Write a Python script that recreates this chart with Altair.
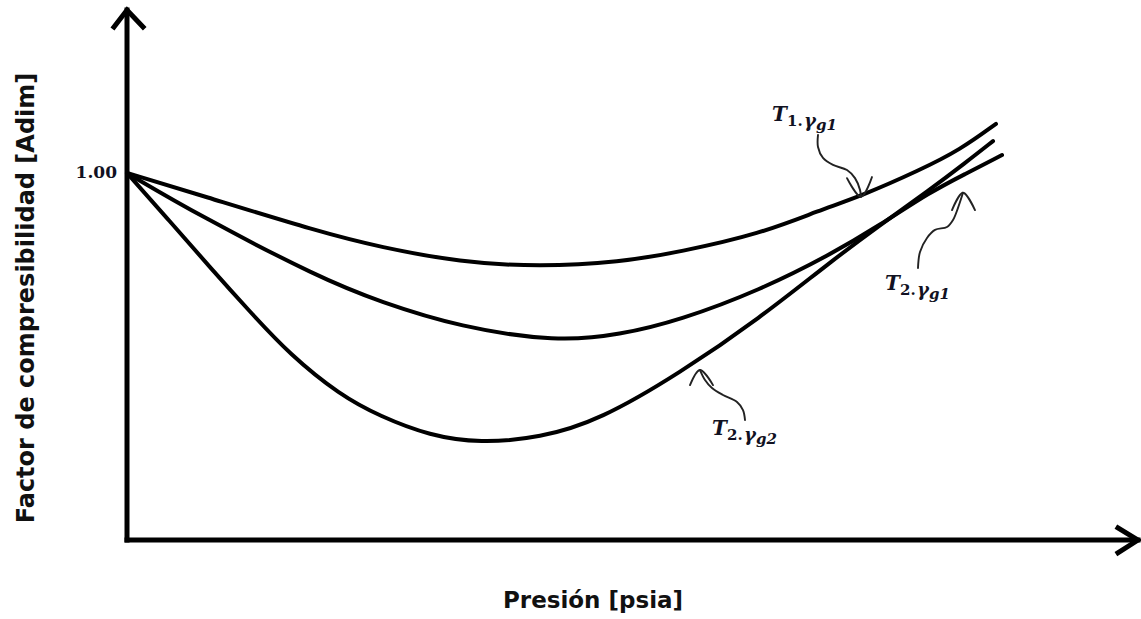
import altair as alt
import pandas as pd

# Pressure in arbitrary units (0 at the origin), Z = compressibility factor
P1 = [0, 73, 193, 253, 333, 413, 493, 553, 633, 693, 734, 793, 833, 869]
Z1 = [1.000, 0.940, 0.839, 0.798, 0.757, 0.744, 0.757, 0.785, 0.834, 0.899, 0.937, 1.008, 1.063, 1.134]

P2 = [0, 73, 193, 253, 333, 430, 493, 553, 633, 703, 753, 803, 838, 875]
Z2 = [1.000, 0.883, 0.714, 0.649, 0.580, 0.540, 0.559, 0.599, 0.681, 0.777, 0.858, 0.948, 0.997, 1.049]

P3 = [0, 43, 83, 123, 163, 213, 253, 303, 353, 413, 473, 553, 633, 703, 753, 803, 838, 866]
Z3 = [1.000, 0.868, 0.743, 0.622, 0.505, 0.395, 0.337, 0.284, 0.264, 0.278, 0.327, 0.455, 0.605, 0.757, 0.858, 0.955, 1.027, 1.087]

CURVE_NAMES = ["T1,γg1", "T2,γg1", "T2,γg2"]

# Curly pointer arrows (stem path + head), one per curve label
ARROW1_P = [691, 691, 696, 706, 720, 728, 733, 734]
ARROW1_Z = [1.104, 1.071, 1.041, 1.022, 1.008, 0.986, 0.954, 0.935]
HEAD1_P = [720, 734, 745]
HEAD1_Z = [0.986, 0.935, 0.989]

ARROW2_P = [791, 793, 800, 808, 820, 826, 831, 836]
ARROW2_Z = [0.741, 0.785, 0.823, 0.845, 0.853, 0.872, 0.905, 0.946]
HEAD2_P = [825, 836, 848]
HEAD2_Z = [0.899, 0.946, 0.899]

ARROW3_P = [618, 616, 610, 596, 585, 578, 573]
ARROW3_Z = [0.327, 0.354, 0.376, 0.395, 0.414, 0.436, 0.463]
HEAD3_P = [563, 573, 586]
HEAD3_Z = [0.422, 0.463, 0.422]

# Curve labels: anchor (left of "T", on its baseline), temperature and gas subscripts
LABEL_P = [645, 758, 585]
LABEL_Z = [1.142, 0.681, 0.286]
LABEL_T = ["1.", "2.", "2."]
LABEL_G = ["g1", "g1", "g2"]

# Axis extents with arrow tips
X_AXIS_P = [0, 1011]
Y_AXIS_Z = [0, 1.444]
X_HEAD_P = [991, 1011, 991]
X_HEAD_Z = [0.033, 0.0, -0.035]
Y_HEAD_P = [-13, 0, 16]
Y_HEAD_Z = [1.398, 1.444, 1.398]

REF_Z = 1.0
REF_LABEL = "1.00"

X_DOMAIN = [-127, 1014]
Y_DOMAIN = [-0.2153, 1.4714]

xs = alt.Scale(domain=X_DOMAIN, nice=False, zero=False)
ys = alt.Scale(domain=Y_DOMAIN, nice=False, zero=False)
X = alt.X("P:Q", scale=xs, axis=None)
Y = alt.Y("Z:Q", scale=ys, axis=None)


def frame(ps, zs, name):
    return pd.DataFrame({"P": ps, "Z": zs, "k": name, "i": range(len(ps))})


curves = pd.concat([
    frame(P1, Z1, CURVE_NAMES[0]),
    frame(P2, Z2, CURVE_NAMES[1]),
    frame(P3, Z3, CURVE_NAMES[2]),
])

axes = pd.concat([
    frame(X_AXIS_P, [0, 0], "xaxis"),
    frame([0, 0], Y_AXIS_Z, "yaxis"),
    frame(X_HEAD_P, X_HEAD_Z, "xhead"),
    frame(Y_HEAD_P, Y_HEAD_Z, "yhead"),
])

arrows = pd.concat([
    frame(ARROW1_P, ARROW1_Z, "a1"), frame(HEAD1_P, HEAD1_Z, "h1"),
    frame(ARROW2_P, ARROW2_Z, "a2"), frame(HEAD2_P, HEAD2_Z, "h2"),
    frame(ARROW3_P, ARROW3_Z, "a3"), frame(HEAD3_P, HEAD3_Z, "h3"),
])

labels = pd.DataFrame({"P": LABEL_P, "Z": LABEL_Z, "t": LABEL_T, "g": LABEL_G})

axis_layer = alt.Chart(axes).mark_line(
    color="black", strokeWidth=5, strokeCap="square", strokeJoin="miter"
).encode(x=X, y=Y, detail="k:N", order="i:Q")

curve_layer = alt.Chart(curves).mark_line(
    color="black", strokeWidth=4, interpolate="basis", strokeCap="round"
).encode(x=X, y=Y, detail="k:N", order="i:Q")

arrow_layer = alt.Chart(arrows).mark_line(
    color="#222222", strokeWidth=1.9, interpolate="catmull-rom", strokeCap="round"
).encode(x=X, y=Y, detail="k:N", order="i:Q")

label_font = "DejaVu Serif"
label_color = "#111122"
base = alt.Chart(labels).encode(x=X, y=Y)
lab_T = base.mark_text(
    text="T", font=label_font, fontSize=20, fontWeight="bold", fontStyle="italic",
    align="left", baseline="alphabetic", color=label_color,
)
lab_t = base.mark_text(
    font=label_font, fontSize=15, fontWeight="bold", dx=15, dy=5,
    align="left", baseline="alphabetic", color=label_color,
).encode(text="t:N")
lab_gamma = base.mark_text(
    text="γ", font=label_font, fontSize=18, fontWeight="bold", fontStyle="italic",
    dx=32, dy=6, align="left", baseline="alphabetic", color=label_color,
)
lab_g = base.mark_text(
    font=label_font, fontSize=15, fontWeight="bold", fontStyle="italic", dx=44, dy=9,
    align="left", baseline="alphabetic", color=label_color,
).encode(text="g:N")

ref = alt.Chart(pd.DataFrame({"P": [0], "Z": [REF_Z], "s": [REF_LABEL]})).mark_text(
    font=label_font, fontSize=17, fontWeight="bold", align="right", baseline="middle",
    dx=-10, color=label_color,
).encode(x=X, y=Y, text="s:N")

title_df = pd.DataFrame({"s": ["Presión [psia]"]})
x_title = alt.Chart(title_df).mark_text(
    font="DejaVu Sans", fontSize=23, fontWeight="bold", color="#111111",
    align="center", baseline="middle",
).encode(x=alt.value(593), y=alt.value(601), text="s:N")

y_title = alt.Chart(pd.DataFrame({"s": ["Factor de compresibilidad [Adim]"]})).mark_text(
    font="DejaVu Sans", fontSize=24, fontWeight="bold", color="#111111",
    align="center", baseline="middle", angle=270,
).encode(x=alt.value(27), y=alt.value(298), text="s:N")

chart = alt.layer(
    axis_layer, curve_layer, arrow_layer, lab_T, lab_t, lab_gamma, lab_g, ref, x_title, y_title
).properties(
    width=1141, height=619, padding=0, autosize=alt.AutoSizeParams(type="none"),
    background="white",
).configure_view(stroke=None)

chart.save("out.html", embed_options={"renderer": "svg", "actions": False})
